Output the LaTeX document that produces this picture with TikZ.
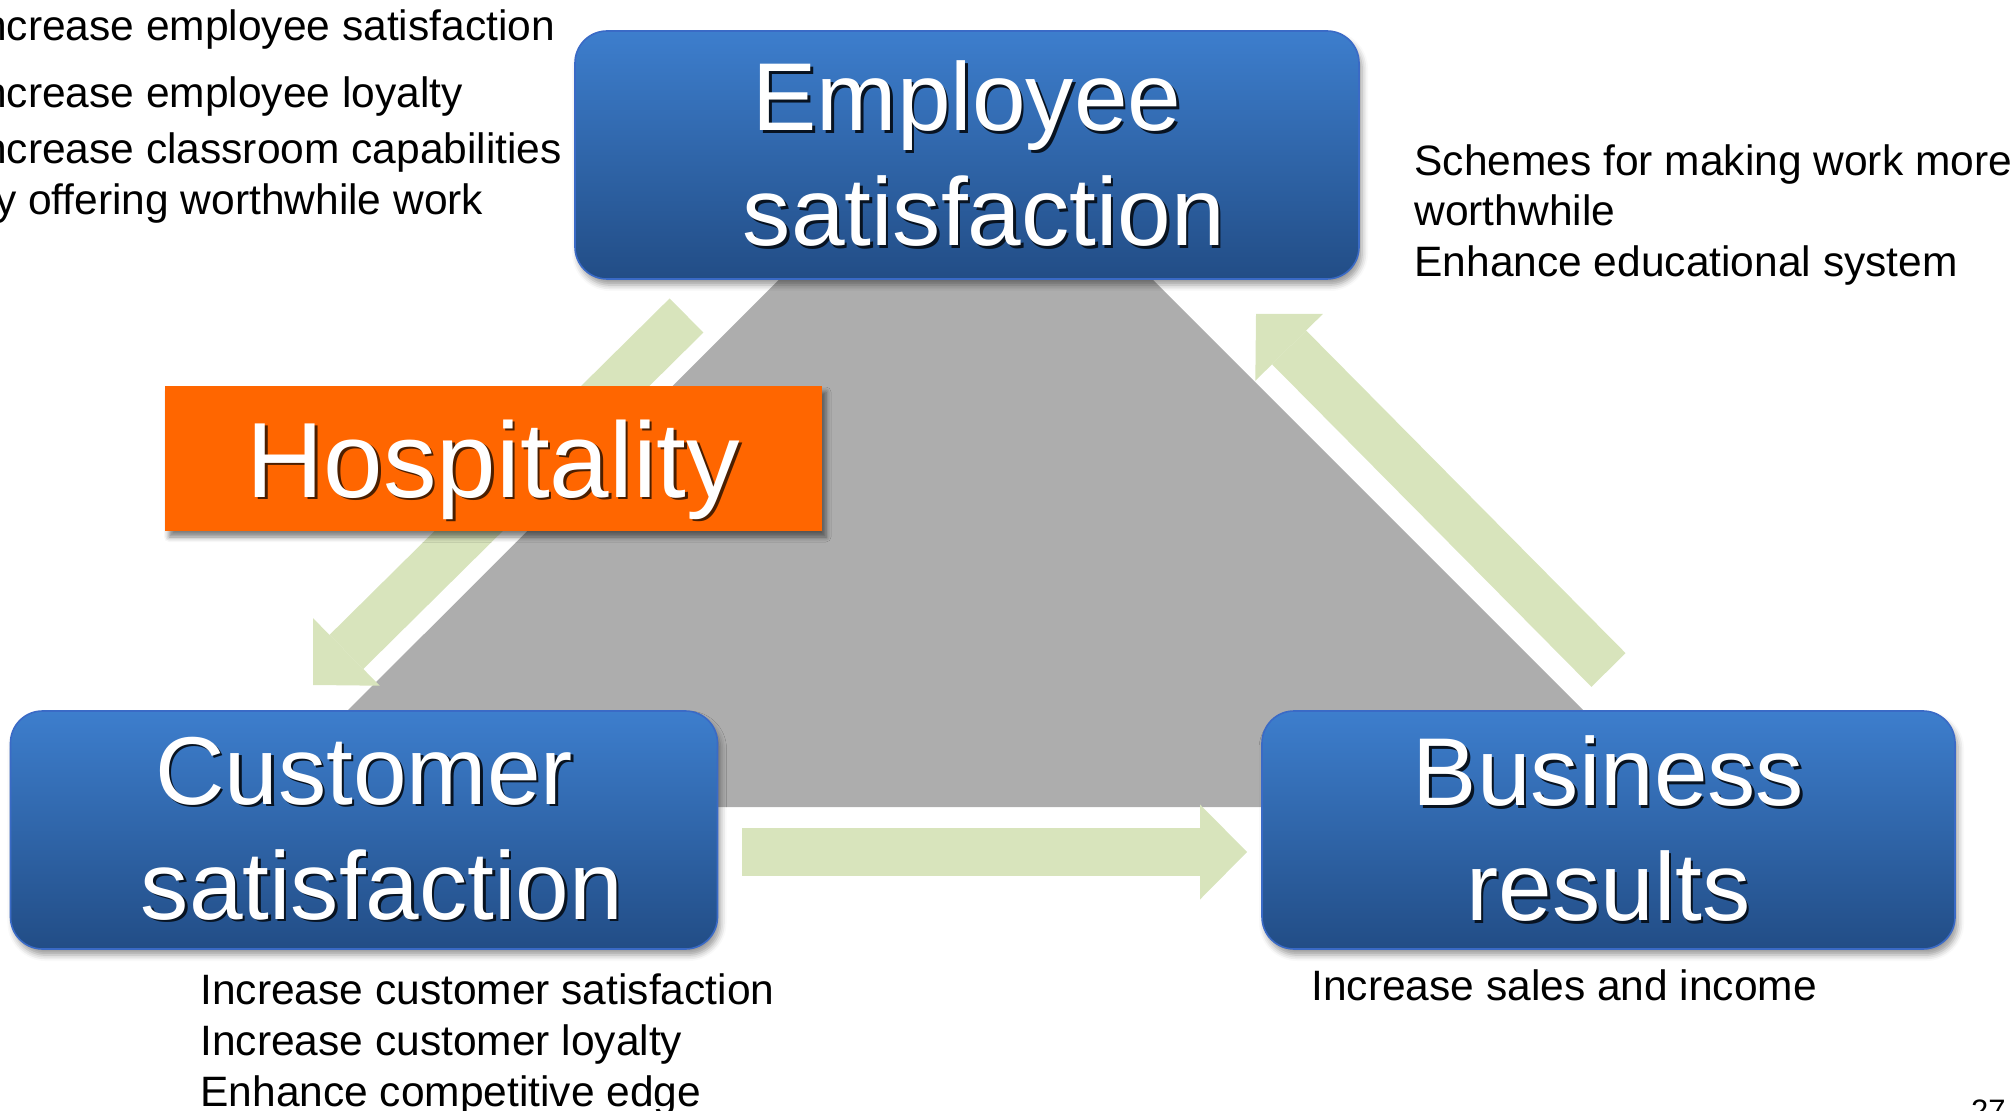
\documentclass[tikz,border=0pt]{standalone}
\usepackage{fontspec}
\setmainfont{Liberation Sans}
\usetikzlibrary{arrows.meta,shadows,shadows.blur}

\definecolor{stagetop}{RGB}{61,126,205}
\definecolor{stagebot}{RGB}{34,77,134}
\definecolor{stageedge}{RGB}{58,106,198}
\definecolor{hosporange}{RGB}{255,102,0}
\definecolor{flowgreen}{RGB}{216,228,188}
\definecolor{trigray}{RGB}{173,173,173}

% white title text with a small dark shadow behind it
\newcommand{\shtext}[2][black!75!stagebot]{%
  \rlap{\kern1.2pt\raisebox{-1.2pt}{\textcolor{#1}{#2}}}#2}

\tikzset{
  stage/.style={rounded corners=16pt, draw=stageedge, line width=0.8pt,
    top color=stagetop, bottom color=stagebot, text=white, align=center,
    font=\fontsize{48.2}{57.5}\selectfont,
    blur shadow={shadow xshift=1.5pt, shadow yshift=-3pt,
      shadow blur radius=3pt, shadow opacity=40}},
  hosp/.style={fill=hosporange, text=white, minimum width=328.5pt,
    minimum height=72.5pt, text depth=0pt, font=\fontsize{53.5}{60}\selectfont,
    blur shadow={shadow xshift=2pt, shadow yshift=-3pt,
      shadow blur radius=2.5pt, shadow opacity=50}},
  note/.style={anchor=north west, inner sep=0pt, align=left,
    font=\fontsize{21.25}{25.5}\selectfont},
  flow/.style={draw=flowgreen, line width=24pt,
    -{Triangle[width=47.5pt, length=23.5pt, line width=0pt]}}
}

\begin{document}
\begin{tikzpicture}[x=0.5pt, y=-0.5pt]
  \useasboundingbox (0,0) rectangle (2016,1111);
  \clip (0,0) rectangle (2016,1111);

  % grey triangle behind the three stages
  \fill[trigray] (966,93) -- (251,807) -- (1680,807) -- cycle;

  % arrow ends
  \coordinate (es) at (686.5,315.5);
  \coordinate (ce) at (313,685);
  \coordinate (cs) at (742,852);
  \coordinate (be) at (1247,852);
  \coordinate (bs) at (1608.5,670);
  \coordinate (ee) at (1256,314);

  \draw[flow] (es) -- (ce);
  \draw[flow] (cs) -- (be);
  \draw[flow] (bs) -- (ee);

  \node[hosp] (hosp) at (493.5,458.5) {\shtext[black!70!hosporange]{Hospitality}};

  \node[stage, minimum width=392pt, minimum height=124pt] (emp) at (967,155)
    {\shtext{Employee}\\\hspace*{17pt}\shtext{satisfaction}};
  \node[stage, minimum width=353.5pt, minimum height=119pt] (cust) at (364,830)
    {\shtext{Customer}\\\hspace*{18pt}\shtext{satisfaction}};
  \node[stage, minimum width=346.5pt, minimum height=119pt] (biz) at (1608.5,830)
    {\shtext{Business}\\\shtext{results}};

  % notes around the stages
  \node[note] (empnote) at (-29,9)
    {Increase employee satisfaction\\[8pt]Increase employee loyalty\\[2.5pt]%
     Increase classroom capabilities\\by offering worthwhile work};
  \node[note, font=\fontsize{21.25}{25.25}\selectfont] (worknote) at (1414,144)
    {Schemes for making work more\\worthwhile\\Enhance educational system};
  \node[note] (custnote) at (200,973)
    {Increase customer satisfaction\\Increase customer loyalty\\Enhance competitive edge};
  \node[note] (biznote) at (1311,969) {Increase sales and income};

  \node[anchor=north east, inner sep=0pt, font=\fontsize{15.5}{18}\selectfont]
    (page) at (2006,1099) {27};
\end{tikzpicture}
\end{document}
